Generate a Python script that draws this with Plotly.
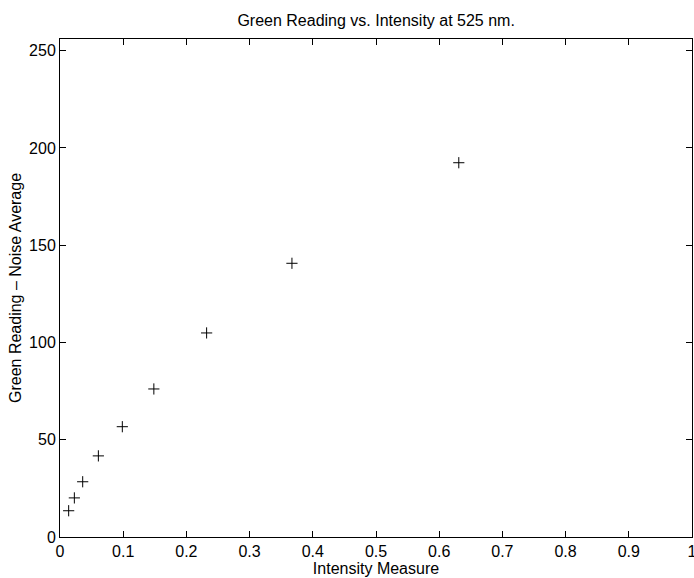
import plotly.graph_objects as go

intensity = [0.0137, 0.0227, 0.0359, 0.0607, 0.0986, 0.1485, 0.232, 0.367, 0.631]
green_minus_noise = [13.5, 20.1, 28.4, 41.7, 56.7, 76.1, 104.9, 140.7, 192.4]

title_text = "Green Reading vs. Intensity at 525 nm."
x_title = "Intensity Measure"
y_title = "Green Reading \u2013 Noise Average"

FONT = "Liberation Sans, Arial, Helvetica, sans-serif"

fig = go.Figure()
fig.add_trace(go.Scatter(
    x=intensity, y=green_minus_noise, mode="markers",
    marker=dict(symbol="cross-thin", size=8, color="black",
                line=dict(width=1, color="black")),
    showlegend=False,
))

axis_common = dict(
    showgrid=False, zeroline=False, showline=True, linecolor="black",
    linewidth=1, mirror="ticks", ticks="inside", ticklen=6, tickwidth=1,
    tickcolor="black", tickfont=dict(family=FONT, size=16, color="black"),
    ticklabeloverflow="allow", automargin=False,
)

fig.update_layout(
    width=694, height=578,
    margin=dict(l=60, r=2, t=39, b=41),
    paper_bgcolor="white", plot_bgcolor="white",
    font=dict(family=FONT, size=16, color="black"),
    title=dict(text=title_text, x=0.542, xanchor="center", y=1 - 20 / 578,
               yanchor="middle", yref="container",
               font=dict(family=FONT, size=16, color="black")),
    xaxis=dict(range=[0, 1], tickmode="linear", tick0=0, dtick=0.1,
               title=dict(text=x_title, standoff=1,
                          font=dict(family=FONT, size=16, color="black")),
               **axis_common),
    yaxis=dict(range=[0, 256], tickmode="linear", tick0=0, dtick=50,
               title=dict(text=y_title, standoff=3,
                          font=dict(family=FONT, size=16, color="black")),
               **axis_common),
)

fig.write_html("out.html")
